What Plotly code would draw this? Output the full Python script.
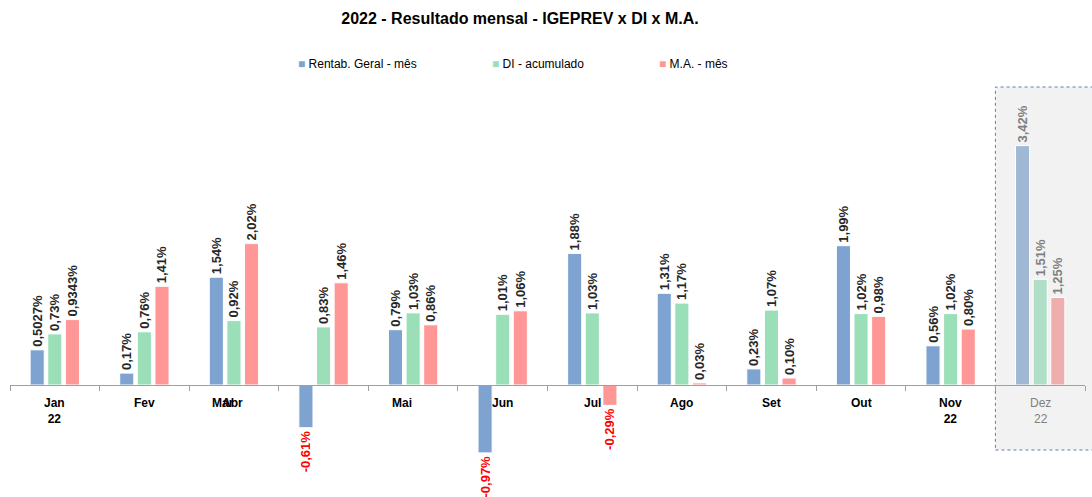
import plotly.graph_objects as go

# ---- data ----
categories = ["Jan", "Fev", "Mar", "Abr", "Mai", "Jun", "Jul", "Ago", "Set", "Out", "Nov", "Dez"]
axis_labels = ["Jan<br>22", "Fev", "Mar", "Abr", "Mai", "Jun", "Jul", "Ago", "Set", "Out", "Nov<br>22", "Dez<br>22"]
series_names = ["Rentab. Geral - mês", "DI - acumulado", "M.A. - mês"]
rentab_geral = [0.5027, 0.17, 1.54, -0.61, 0.79, -0.97, 1.88, 1.31, 0.23, 1.99, 0.56, 3.42]
di_acumulado = [0.73, 0.76, 0.92, 0.83, 1.03, 1.01, 1.03, 1.17, 1.07, 1.02, 1.02, 1.51]
ma_mes = [0.9343, 1.41, 2.02, 1.46, 0.86, 1.06, -0.29, 0.03, 0.10, 0.98, 0.80, 1.25]
title_text = "2022 - Resultado mensal - IGEPREV x DI x M.A."

# ---- styles ----
colors = ["#7EA3D1", "#9ADFB8", "#FF9797"]
faded = ["#A0B8D4", "#B1DEC6", "#EFAEAE"]
FONT = "Liberation Sans Narrow, Arial Narrow, Liberation Sans, Arial, sans-serif"
FONT_R = "Liberation Sans, Arial, sans-serif"
highlight_index = 11  # Dez


def fmt(v):
    s = f"{abs(v):.4f}".rstrip("0")
    ip, dp = s.split(".")
    while len(dp) < 2:
        dp += "0"
    return ("-" if v < 0 else "") + ip + "," + dp + "%"


fig = go.Figure()
for name, vals, c, fc in zip(series_names, [rentab_geral, di_acumulado, ma_mes], colors, faded):
    n = len(vals)
    mcolors = [fc if i == highlight_index else c for i in range(n)]
    tcolors = []
    for i, v in enumerate(vals):
        if i == highlight_index:
            tcolors.append("#7F7F7F")
        elif v < 0:
            tcolors.append("#FF0000")
        else:
            tcolors.append("#262626")
    fig.add_trace(go.Bar(
        x=categories, y=vals, name=name,
        marker=dict(color=mcolors, line=dict(color="white", width=1)),
        text=[fmt(v) for v in vals],
        textposition="outside", textangle=-90,
        textfont=dict(family=FONT_R, size=13, color=tcolors, weight="bold"),
        constraintext="none", cliponaxis=False,
        showlegend=False,
    ))

W, H = 1092, 497
ml, mr, mt, mb = 10, 7, 87, 0
ph = H - mt - mb
pw = W - ml - mr
zero_px = 385
ppu = 70.0
ymax = (zero_px - mt) / ppu
ymin = -(H - mb - zero_px) / ppu
axis_pos = (H - mb - zero_px) / ph

fig.update_layout(
    width=W, height=H,
    margin=dict(l=ml, r=mr, t=mt, b=mb, autoexpand=False),
    paper_bgcolor="white", plot_bgcolor="rgba(0,0,0,0)",
    barmode="group", bargap=0.41, bargroupgap=0.2,
    title=dict(text="<b>" + title_text + "</b>", x=520 / W, xanchor="center",
               y=1 - 18 / H, yanchor="middle",
               font=dict(family=FONT, size=16, color="#000000")),
    xaxis=dict(type="category", anchor="free", position=axis_pos,
               showline=True, linecolor="#A0A0A0", linewidth=1,
               ticks="outside", tickson="boundaries", ticklen=5, tickcolor="#A0A0A0",
               showticklabels=False, showgrid=False, zeroline=False,
               range=[-0.5, len(categories) - 0.5]),
    yaxis=dict(range=[ymin, ymax], visible=False, showgrid=False, zeroline=False),
    font=dict(family=FONT),
)

# highlight box for last month
fig.add_shape(type="rect", xref="paper", yref="paper",
              x0=(len(categories) - 1) / len(categories), x1=(W + 5 - ml) / pw,
              y0=(H - mb - 450) / ph, y1=1.0,
              fillcolor="#F2F2F2", line=dict(color="#5B7DB1", width=1, dash="dot"),
              layer="below")

# category labels
label_shift = {"Mar": -11, "Abr": -91, "Mai": -11}
for cat, lab in zip(categories, axis_labels):
    col = "#7F7F7F" if cat == categories[highlight_index] else "#000000"
    fig.add_annotation(x=cat, xref="x", y=axis_pos, yref="paper",
                       text="<b>" + lab + "</b>" if col == "#000000" else lab,
                       showarrow=False, xanchor="center", yanchor="top",
                       xshift=label_shift.get(cat, 0), yshift=-9,
                       font=dict(family=FONT_R, size=12, color=col))

# legend (manual)
legend_x_px = [296, 490, 657]
for name, c, lx in zip(series_names, colors, legend_x_px):
    fig.add_annotation(x=(lx - ml) / pw, xref="paper", y=1 + (mt - 64) / ph, yref="paper",
                       text=f'<span style="color:{c}">■</span> {name}',
                       showarrow=False, xanchor="left", yanchor="middle",
                       font=dict(family=FONT, size=12, color="#000000"))

fig.write_html("out.html", config={"displayModeBar": False},
               post_script="document.body.style.margin='0';document.body.style.overflow='hidden';")
